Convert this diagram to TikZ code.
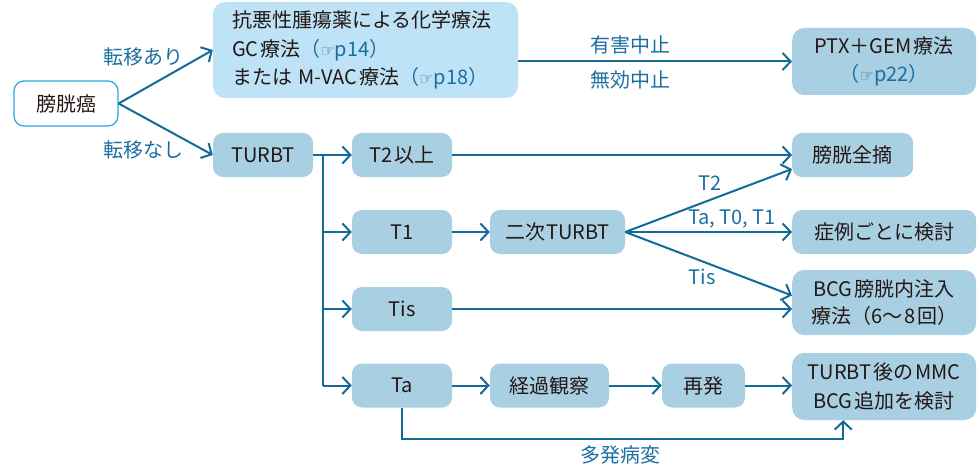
\documentclass[tikz,border=0pt]{standalone}
\usepackage{fontspec}
\setmainfont{Noto Sans CJK JP}
\newfontfamily\djv{DejaVu Sans}
\usetikzlibrary{arrows.meta,calc}
\definecolor{boxb}{HTML}{A9CFE2}
\definecolor{boxl}{HTML}{BEE3F7}
\definecolor{lineb}{HTML}{13699A}
\definecolor{txtb}{HTML}{1A6FA0}
\definecolor{txtd}{HTML}{231815}
\definecolor{cyanb}{HTML}{2AA8DF}
\newcommand{\hand}{{\djv\fontsize{16}{16}\selectfont ☞}}
\newcommand{\js}{\kern2pt}
\begin{document}
\begin{tikzpicture}[x=1pt,y=-1pt,
  box/.style={rounded corners=10pt, fill=boxb, text=txtd, font=\fontsize{20}{28}\selectfont, align=center, inner sep=0pt, minimum height=44pt},
  conn/.style={draw=lineb, line width=2pt, -{Straight Barb[length=8pt,width=17pt]}},
  plain/.style={draw=lineb, line width=2pt},
  lab/.style={text=txtb, font=\fontsize{20}{24}\selectfont, inner sep=0pt}]
\useasboundingbox (0,0) rectangle (980,468);

% nodes
\node[box, fill=white, draw=cyanb, line width=1.3pt, minimum width=104pt, minimum height=45pt] (bc) at (66,103.5) {膀胱癌};
\node[box, fill=boxl, rounded corners=12pt, minimum width=305pt, minimum height=96pt, text width=267pt, align=left, inner xsep=19pt, font=\fontsize{20}{28.5}\selectfont] (chem) at (365.5,50) {抗悪性腫瘍薬による化学療法\\GC\js 療法{\color{txtb}（\hand p14）}\\または M-VAC\js 療法{\color{txtb}（\hand p18）}};
\node[box, anchor=west, minimum width=184pt, minimum height=67pt, rounded corners=12pt] (ptx) at (792,61.5) {PTX＋GEM\js 療法\\{\color{txtb}（\hand p22）}};

\node[box, minimum width=100pt] (turbt) at (263,155) {TURBT};
\node[box, minimum width=100pt] (t2) at (402,155) {T2\js 以上};
\node[box, minimum width=100pt] (t1) at (402,232) {T1};
\node[box, minimum width=100pt] (tis) at (402,309) {Tis};
\node[box, minimum width=100pt] (ta) at (402,385.5) {Ta};
\node[box, minimum width=135pt] (niji) at (557.5,232) {二次\kern1pt TURBT};
\node[box, minimum width=119pt] (keika) at (549.5,385.5) {経過観察};
\node[box, minimum width=83pt] (sai) at (703.5,385.5) {再発};

\node[box, anchor=west, minimum width=121pt] (zen) at (792,155) {膀胱全摘};
\node[box, anchor=west, minimum width=184pt] (sho) at (792,232) {症例ごとに検討};
\node[box, anchor=west, minimum width=184pt, minimum height=65pt, rounded corners=12pt, font=\fontsize{20}{27}\selectfont] (bcg) at (792,302.5) {BCG\js 膀胱内注入\\療法（6～\js 8\js 回）};
\node[box, anchor=west, minimum width=184pt, minimum height=67pt, rounded corners=12pt, font=\fontsize{20}{29}\selectfont] (mmc) at (792,386.5) {TURBT\js 後の\js MMC\\BCG\js 追加を検討};

% connectors
\draw[conn] (bc.east) -- (chem.west);
\draw[conn] (bc.east) -- (turbt.west);
\node[lab] (l1) at (143,57) {転移あり};
\node[lab] (l2) at (143,150) {転移なし};

\draw[conn] (chem.east |- ptx.west) -- (ptx.west);
\node[lab] (l3) at (630,45) {有害中止};
\node[lab] (l4) at (630,80) {無効中止};

\coordinate (j) at (323,155);
\coordinate (jb) at (323,385.5);
\draw[plain] (turbt.east) -- (j) -- (jb);
\draw[conn] (j) -- (t2.west);
\draw[conn] (j |- t1.west) -- (t1.west);
\draw[conn] (j |- tis.west) -- (tis.west);
\draw[conn] (jb) -- (ta.west);

\draw[conn] (t1.east) -- (niji.west);
\draw[conn] (t2.east) -- (zen.west);
\coordinate (zin) at ($(zen.west)+(0,14)$);
\coordinate (bin) at ($(bcg.west)+(0,-7)$);
\draw[conn] (niji.east) -- (zin);
\draw[conn] (niji.east) -- (sho.west);
\draw[conn] (niji.east) -- (bin);
\node[lab] (l5) at (710,183) {T2};
\node[lab] (l6) at (732,219) {Ta, T0, T1};
\node[lab] (l7) at (702,277) {Tis};

\draw[conn] (tis.east) -- (tis.east -| bcg.west);

\draw[conn] (ta.east) -- (keika.west);
\draw[conn] (keika.east) -- (sai.west);
\draw[conn] (sai.east) -- (sai.east -| mmc.west);
\coordinate (min) at ($(mmc.south)+(-41,0)$);
\draw[conn] (ta.south) |- ($(min)+(0,19)$) -- (min);
\node[lab] (l8) at (620,455) {多発病変};
\end{tikzpicture}
\end{document}
